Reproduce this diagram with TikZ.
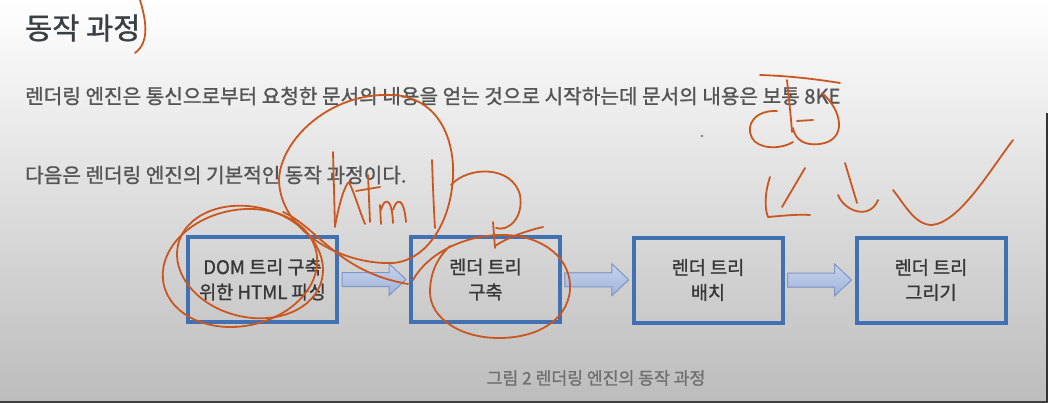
\documentclass[tikz,border=0pt]{standalone}
\usepackage{fontspec}
\setmainfont{Noto Sans CJK KR}[AutoFakeBold=1.2]
\usetikzlibrary{calc}
\definecolor{boxblue}{HTML}{4170B3}
\definecolor{arrowtop}{HTML}{C7D4EC}
\definecolor{arrowbot}{HTML}{9FB3DA}
\definecolor{arrowline}{HTML}{7F98C8}
\definecolor{pen}{HTML}{C9571F}
\definecolor{titlegray}{HTML}{3A3F44}
\definecolor{textgray}{HTML}{555555}
\definecolor{capgray}{HTML}{707070}
\definecolor{bgmid}{HTML}{DCDCDC}
\definecolor{bgbot}{HTML}{BCBCBC}
\tikzset{
  stepbox/.style={draw=boxblue, line width=4pt, minimum width=149pt, minimum height=85pt,
    inner sep=0pt, align=center, text=black!78, font=\bfseries\fontsize{18.6}{25}\selectfont},
  plaintext/.style={anchor=west, inner sep=0pt},
  penline/.style={draw=pen, line width=1.8pt, line cap=round, line join=round},
  barrow/.pic={
    \filldraw[draw=arrowline, line width=1pt, top color=arrowtop, bottom color=arrowbot]
      (-32,-7) -- (15,-7) -- (15,-16) -- (32,0) -- (15,16) -- (15,7) -- (-32,7) -- cycle;
  }
}
\begin{document}
\begin{tikzpicture}[x=1pt,y=-1pt]
\useasboundingbox (0,0) rectangle (1048,403);
\shade[top color=white, middle color=bgmid, bottom color=bgbot] (0,0) rectangle (1048,403);
\fill[black!80] (1045.5,113) rectangle (1048,403);
\fill[black!75] (0,400.5) rectangle (1048,403);

% texts
\node[plaintext, font=\bfseries\fontsize{29.5}{32}\selectfont, text=titlegray] (title) at (25,28) {동작 과정};
\node[plaintext, font=\bfseries\fontsize{20.2}{24}\selectfont, text=textgray] (p1) at (25,96)
  {렌더링 엔진은 통신으로부터 요청한 문서의 내용을 얻는 것으로 시작하는데 문서의 내용은 보통 8KE};
\node[plaintext, font=\bfseries\fontsize{20.2}{24}\selectfont, text=textgray] (p2) at (25,175)
  {다음은 렌더링 엔진의 기본적인 동작 과정이다.};
\node[inner sep=0pt, font=\bfseries\fontsize{17.2}{20}\selectfont, text=capgray] (cap) at (596,378)
  {그림 2 렌더링 엔진의 동작 과정};
\fill[gray] (702,136) circle (1.3);

% boxes
\node[stepbox] (b1) at (262.5,279.5) {DOM 트리 구축\\위한 HTML 파싱};
\node[stepbox] (b2) at (485.5,279.5) {렌더 트리\\구축};
\node[stepbox] (b3) at (708,280) {렌더 트리\\배치};
\node[stepbox] (b4) at (931,280) {렌더 트리\\그리기};

% block arrows
\path ($(b1.east)!0.5!(b2.west)$) pic {barrow};
\path ($(b2.east)!0.5!(b3.west)$) pic {barrow};
\path ($(b3.east)!0.5!(b4.west)$) pic {barrow};

% hand-drawn annotations
\draw[penline] (140,0) .. controls (146,20) and (150,42) .. (135,53);
% circle around html
\draw[penline] (392,95) .. controls (330,92) and (280,140) .. (279,180)
  .. controls (280,230) and (340,265) .. (393,263)
  .. controls (430,260) and (455,215) .. (453,165)
  .. controls (450,120) and (425,96) .. (392,95);
\draw[penline] (451,185) .. controls (468,166) and (512,165) .. (520,195)
  .. controls (524,218) and (508,232) .. (496,228);
\draw[penline] (493,222) -- (495,248);
\draw[penline] (495,246) .. controls (510,236) and (530,230) .. (543,227);
% html letters
\draw[penline] (333,152) -- (335,227);
\draw[penline] (335,226) .. controls (340,200) and (345,185) .. (349,182) .. controls (355,195) and (360,212) .. (365,224);
\draw[penline] (368,175) -- (370,222);
\draw[penline] (356,191) -- (380,187);
\draw[penline] (380,205) -- (381,224);
\draw[penline] (381,210) .. controls (384,198) and (392,196) .. (393,223);
\draw[penline] (393,210) .. controls (397,197) and (404,198) .. (406,222);
\draw[penline] (432,160) .. controls (433,190) and (434,212) .. (435,228);
% ellipses around box 1
\draw[penline, rotate around={12:(240,268)}] (240,268) ellipse (78 and 58);
\draw[penline, rotate around={-14:(250,262)}] (250,262) ellipse (74 and 55);
\draw[penline] (283,212) .. controls (318,228) and (338,272) .. (408,284);
% ellipse around box 2
\draw[penline] (413,280) .. controls (430,250) and (470,234) .. (505,235)
  .. controls (545,236) and (572,260) .. (570,290)
  .. controls (567,322) and (535,338) .. (499,338)
  .. controls (460,338) and (430,318) .. (430,292)
  .. controls (430,270) and (440,255) .. (450,246);
% top-right scribbles
\draw[penline] (760,75) .. controls (790,76) and (815,79) .. (840,83);
\draw[penline] (787,80) .. controls (789,100) and (791,118) .. (792,132);
\draw[penline] (797,121) -- (813,120);
\draw[penline] (822,93) .. controls (842,110) and (848,140) .. (820,144)
  .. controls (805,146) and (795,140) .. (793,128);
\draw[penline] (777,111) .. controls (755,110) and (745,125) .. (752,138)
  .. controls (758,149) and (780,150) .. (793,142);
\draw[penline] (805,168) -- (782,207);
\draw[penline] (770,177) .. controls (764,195) and (765,210) .. (768,217) .. controls (780,216) and (798,214) .. (810,215);
\draw[penline] (845,163) -- (857,203);
\draw[penline] (838,195) .. controls (845,212) and (870,220) .. (878,200);
\draw[penline] (893,190) .. controls (905,205) and (915,225) .. (932,225)
  .. controls (960,222) and (990,170) .. (1013,140);
\end{tikzpicture}
\end{document}
